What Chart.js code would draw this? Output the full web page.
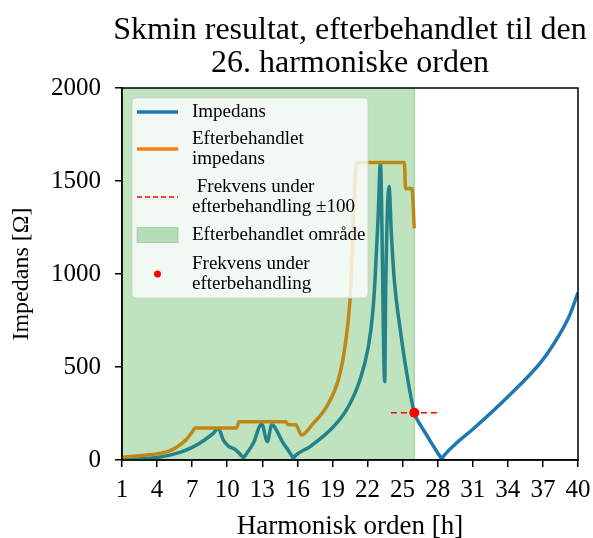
<!DOCTYPE html>
<html><head><meta charset="utf-8">
<script src="https://cdn.jsdelivr.net/npm/chart.js@4"></script>
<style>html,body{margin:0;padding:0;background:#fff}</style>
</head><body>
<canvas id="c" width="593" height="538"></canvas>
<script>
const titleLines = ["Skmin resultat, efterbehandlet til den", "26. harmoniske orden"];
const xLabel = "Harmonisk orden [h]";
const yLabel = "Impedans [\u03A9]";
const xTicks = [1,4,7,10,13,16,19,22,25,28,31,34,37,40];
const yTicks = [0,500,1000,1500,2000];

// Impedance (whole range)
const hImp = [1,2,3,4,5,6,7,8,8.8,9.24,9.67,10.1,10.67,11.2,11.38,11.55,12.23,12.95,13.43,13.8,14.8,15.5,15.65,15.8,17.08,18.8,20.2,21.35,22.07,22.44,22.64,22.9,23.1,23.47,23.55,23.84,24.05,24.3,24.8,25.35,26,26.5,27,27.5,28,28.2,28.35,28.5,29.5,31,34,37,38.5,39.3,40];
const zImp = [0,3,8,13,25,42,68,105,143,170,107,75,57,25,12,25,90,194,99,188,90,25,9,22,72,161,269,430,609,789,968,1300,1595,421,900,1470,1200,960,700,467,254,190,140,88,38,20,5,20,85,165,340,540,683,780,900];

// Post-processed impedance
const hPost = [1,2,3,4,5,5.7,6.5,7,7.25,10.8,11.0,15.0,15.2,15.85,16.35,17.36,18.5,19.5,20.07,20.5,21.07,25.15,25.25,25.8,26];
const zPost = [15,20,26,33,48,70,110,150,172,172,205,205,190,190,134,197,287,430,609,860,1600,1600,1460,1460,1245];

// Post-processed region and frequency marker
const regionH = [1, 26];
const regionTop = 2000;
const markerH = 26;
const markerZ = 254;
const markerRange = [24, 28];

const legendItems = [
  {type:'line', color:'#1f77b4', lines:["Impedans"]},
  {type:'line', color:'#ff7f0e', lines:["Efterbehandlet","impedans"]},
  {type:'dash', color:'#ff0000', lines:[" Frekvens under","efterbehandling \u00B1100"]},
  {type:'patch', color:'rgba(44,160,44,0.3)', lines:["Efterbehandlet omr\u00E5de"]},
  {type:'dot', color:'#ff0000', lines:["Frekvens under","efterbehandling"]}
];

const SERIF = "'Liberation Serif', 'Times New Roman', serif";
const pts = (xs, ys) => xs.map((x,i)=>({x:x, y:ys[i]}));

const customPlugin = {
  id: 'custom',
  afterDatasetsDraw(chart) {
    const ctx = chart.ctx, a = chart.chartArea;
    ctx.save();
    ctx.strokeStyle = '#000'; ctx.lineWidth = 1.5;
    ctx.strokeRect(a.left, a.top, a.right - a.left, a.bottom - a.top);
    const bx = a.left + 10, by = a.top + 10, bw = 236, bh = 200;
    ctx.beginPath();
    if (ctx.roundRect) ctx.roundRect(bx, by, bw, bh, 4); else ctx.rect(bx, by, bw, bh);
    ctx.fillStyle = 'rgba(255,255,255,0.8)'; ctx.fill();
    ctx.strokeStyle = 'rgba(204,204,204,0.8)'; ctx.lineWidth = 1; ctx.stroke();
    ctx.font = "19px " + SERIF;
    ctx.textBaseline = 'middle'; ctx.textAlign = 'left';
    const hx0 = bx + 5, hx1 = bx + 46, tx = bx + 60;
    const lh = 20.5;
    const centers = [14, 51, 99, 137, 176];
    legendItems.forEach((it, i) => {
      const cy = by + centers[i];
      const n = it.lines.length;
      ctx.save();
      if (it.type === 'line' || it.type === 'dash') {
        ctx.strokeStyle = it.color; ctx.lineWidth = it.type==='line' ? 3.5 : 1.5;
        ctx.setLineDash(it.type==='dash' ? [5,3] : []);
        ctx.beginPath(); ctx.moveTo(hx0, cy); ctx.lineTo(hx1, cy); ctx.stroke();
      } else if (it.type === 'patch') {
        ctx.fillStyle = it.color; ctx.fillRect(hx0, cy-7.5, hx1-hx0, 15);
        ctx.strokeStyle = 'rgba(44,160,44,0.3)'; ctx.lineWidth=1; ctx.strokeRect(hx0, cy-7.5, hx1-hx0, 15);
      } else if (it.type === 'dot') {
        ctx.fillStyle = it.color; ctx.beginPath(); ctx.arc((hx0+hx1)/2, cy, 3.5, 0, Math.PI*2); ctx.fill();
      }
      ctx.restore();
      ctx.fillStyle = '#000';
      it.lines.forEach((t, j) => {
        ctx.fillText(t, tx, cy + (j - (n-1)/2) * lh);
      });
    });
    ctx.restore();
  },
  afterDraw(chart) {
    const ctx = chart.ctx, a = chart.chartArea;
    ctx.save();
    ctx.font = "32px " + SERIF;
    ctx.fillStyle = '#000'; ctx.textAlign = 'center'; ctx.textBaseline = 'middle';
    const cx = (a.left + a.right) / 2;
    ctx.fillText(titleLines[0], cx, 31);
    ctx.fillText(titleLines[1], cx, 64);
    ctx.restore();
  }
};

new Chart(document.getElementById('c'), {
  type: 'line',
  data: {
    datasets: [
      {label:'Impedans', data: pts(hImp, zImp), borderColor:'#1f77b4', borderWidth:3.5, pointRadius:0, cubicInterpolationMode:'monotone', fill:false, order:4},
      {label:'Efterbehandlet impedans', data: pts(hPost, zPost), borderColor:'#ff7f0e', borderWidth:3.5, pointRadius:0, cubicInterpolationMode:'monotone', fill:false, order:3},
      {label:'Efterbehandlet område', data: [{x:regionH[0], y:regionTop},{x:regionH[1], y:regionTop}], borderColor:'rgba(0,0,0,0)', borderWidth:1, backgroundColor:'rgba(44,160,44,0.3)', fill:'origin', pointRadius:0, order:2},
      {label:'edge', data: [{x:regionH[1], y:0},{x:regionH[1], y:regionTop}], borderColor:'rgba(44,160,44,0.4)', borderWidth:1.2, pointRadius:0, fill:false, order:2},
      {label:'Frekvens under efterbehandling ±100', data: [{x:markerRange[0], y:markerZ},{x:markerRange[1], y:markerZ}], borderColor:'#ff0000', borderWidth:1.5, borderDash:[6,4], pointRadius:0, fill:false, order:1},
      {label:'Frekvens under efterbehandling', data: [{x:markerH, y:markerZ}], showLine:false, pointRadius:5, pointBackgroundColor:'#ff0000', pointBorderWidth:0, borderColor:'#ff0000', order:0}
    ]
  },
  options: {
    responsive: false, animation: false,
    layout: {padding: {top: 88, right: 15, left: 0, bottom: 0}},
    plugins: {
      legend: {display:false}, title: {display:false}, tooltip: {enabled:false},
      filler: {drawTime: 'beforeDatasetDraw'}
    },
    scales: {
      x: {
        type:'linear', min:1, max:40,
        afterBuildTicks: s => { s.ticks = xTicks.map(v => ({value:v})); },
        afterFit: s => { s.height = 78; s.paddingLeft = 0; s.paddingRight = 0; },
        ticks: {autoSkip:false, maxRotation:0, color:'#000', padding:8, font:{family:SERIF, size:25}, callback: v => String(v)},
        grid: {drawOnChartArea:false, drawTicks:true, tickLength:7, color:'#000', lineWidth:1.5},
        border: {display:true, color:'#000', width:1.5},
        title: {display:true, text:xLabel, color:'#000', font:{family:SERIF, size:27, lineHeight:1.0}, padding:{top:0, bottom:-2}}
      },
      y: {
        min:0, max:2000,
        afterBuildTicks: s => { s.ticks = yTicks.map(v => ({value:v})); },
        afterFit: s => { s.width = 122; },
        ticks: {color:'#000', padding:14, font:{family:SERIF, size:25}, callback: v => String(v)},
        grid: {drawOnChartArea:false, drawTicks:true, tickLength:7, color:'#000', lineWidth:1.5},
        border: {display:true, color:'#000', width:1.5},
        title: {display:true, text:yLabel, color:'#000', font:{family:SERIF, size:24, lineHeight:1.0}, padding:{top:10, bottom:0}}
      }
    }
  },
  plugins: [customPlugin]
});
</script>
</body></html>
